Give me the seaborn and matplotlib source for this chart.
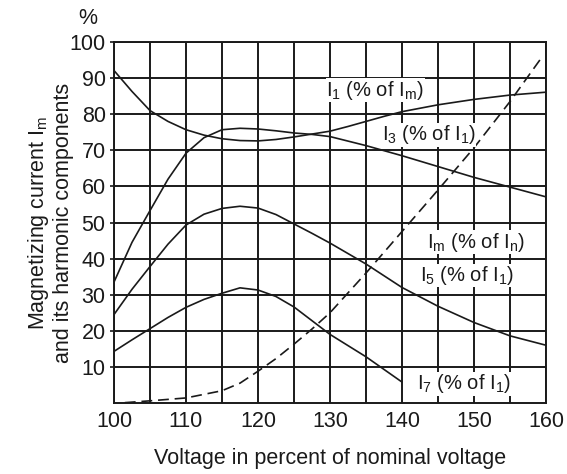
import matplotlib
matplotlib.use("Agg")
import matplotlib.pyplot as plt
import numpy as np
import pandas as pd
import seaborn as sns

# values
x_i1 = [100, 102.5, 105, 107.5, 110, 112.5, 115, 117.5, 120, 122.5, 125, 127.5, 130,
        132.5, 135, 137.5, 140, 145, 150, 155, 160]
i1 = [92.1, 86.3, 81.0, 78.0, 75.7, 74.2, 73.2, 72.7, 72.6, 73.0, 73.7, 74.5, 75.3,
      76.6, 78.0, 79.4, 80.7, 82.6, 84.1, 85.3, 86.1]

x_i3 = [100, 102.5, 105, 107.5, 110, 112.5, 115, 117.5, 120, 122.5, 125, 127.5, 130,
        135, 140, 145, 150, 155, 160]
i3 = [33.5, 44.5, 53.3, 62.0, 69.2, 73.5, 75.7, 76.1, 75.9, 75.4, 74.8, 74.4, 73.8,
      71.3, 68.5, 65.5, 62.5, 59.8, 57.1]

x_i5 = [100, 102.5, 105, 107.5, 110, 112.5, 115, 117.5, 120, 122.5, 125, 127.5, 130,
        135, 140, 145, 150, 155, 160]
i5 = [24.5, 31.5, 37.8, 44.0, 49.3, 52.3, 53.9, 54.5, 54.0, 52.2, 49.6, 47.0, 44.3,
      38.5, 32.0, 26.8, 22.3, 18.6, 16.0]

x_i7 = [100, 102.5, 105, 107.5, 110, 112.5, 115, 117.5, 120, 122.5, 125, 127.5, 130,
        135, 140]
i7 = [14.3, 17.5, 20.6, 23.7, 26.5, 28.7, 30.4, 31.9, 31.3, 29.5, 26.6, 22.8, 19.0,
      12.8, 5.8]

x_im = [101.5, 105, 110, 115, 117.5, 120, 122.5, 125, 127.5, 130, 135, 140, 145,
        150, 155, 159.5]
im = [0.1, 0.6, 1.4, 3.4, 5.5, 8.8, 12.3, 16.3, 20.5, 25.0, 36.0, 47.5, 59.0,
      70.7, 83.5, 96.0]

labels = [
    (r"$\mathregular{I_1}$ (% of $\mathregular{I_m}$)", 136.3, 86.6),
    (r"$\mathregular{I_3}$ (% of $\mathregular{I_1}$)", 143.7, 74.3),
    (r"$\mathregular{I_m}$ (% of $\mathregular{I_n}$)", 150.3, 44.5),
    (r"$\mathregular{I_5}$ (% of $\mathregular{I_1}$)", 149.0, 35.3),
    (r"$\mathregular{I_7}$ (% of $\mathregular{I_1}$)", 148.6, 5.3),
]

sns.set_theme(style="white")
plt.rcParams.update(
    {
        "font.family": ["Liberation Sans", "DejaVu Sans"],
        "mathtext.default": "regular",
        "axes.edgecolor": "#1a1a1a",
        "axes.linewidth": 1.4,
    }
)

fig = plt.figure(figsize=(5.67, 4.74), dpi=100)
ax = fig.add_axes([114 / 567, 1 - 403 / 474, 432 / 567, 361 / 474])

ink = "#1a1a1a"
fs = 15.5
for xs, ys in [(x_i1, i1), (x_i3, i3), (x_i5, i5), (x_i7, i7)]:
    sns.lineplot(x=xs, y=ys, ax=ax, color=ink, linewidth=1.2, zorder=3)
sns.lineplot(x=x_im, y=im, ax=ax, color=ink, linewidth=1.2, zorder=3,
             linestyle=(0, (6.5, 3.5)))

for txt, tx, ty in labels:
    ax.text(tx, ty, txt, ha="center", va="center", fontsize=14.5, color=ink, zorder=4,
            bbox=dict(facecolor="white", edgecolor="none", pad=0.3))

ax.set_xlim(100, 160)
ax.set_ylim(0, 100)
ax.set_xticks(np.arange(100, 161, 10))
ax.set_xticks(np.arange(105, 160, 10), minor=True)
ax.set_yticks(np.arange(10, 101, 10))
ax.grid(which="both", color=ink, linewidth=1.4)
ax.set_axisbelow(True)
ax.tick_params(axis="x", which="both", length=0, pad=6, labelsize=fs, colors=ink)
ax.tick_params(axis="y", length=3, width=1.2, pad=3, labelsize=fs, colors=ink,
               left=True)

ax.set_xlabel("Voltage in percent of nominal voltage", fontsize=fs, va="center", color=ink)
ax.xaxis.set_label_coords(0.5, -0.155)
ax.set_ylabel("Magnetizing current $\\mathregular{I_m}$\nand its harmonic components",
              fontsize=fs, va="center", linespacing=1.15, color=ink)
ax.yaxis.set_label_coords(-0.148, 0.5)

fig.text(88 / 567, 1 - 18 / 474, "%", ha="center", va="center", fontsize=fs, color=ink)

fig.savefig("out.png", dpi=100)
